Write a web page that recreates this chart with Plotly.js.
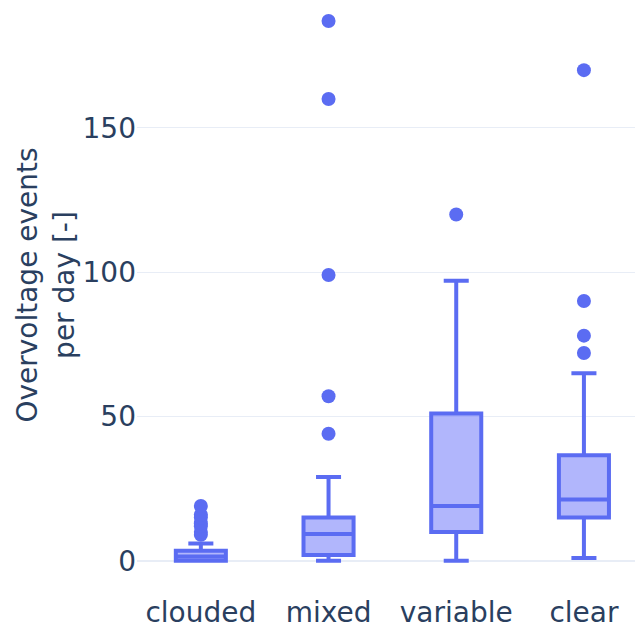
<!DOCTYPE html>
<html>
<head>
<meta charset="utf-8">
<script src="https://cdn.plot.ly/plotly-3.0.1.min.js"></script>
<style>html,body{margin:0;padding:0;background:#fff;}</style>
</head>
<body>
<div id="chart" style="width:635px;height:628px;"></div>
<script>
var categories = ['clouded', 'mixed', 'variable', 'clear'];
var lowerFence = [0, 0, 0, 1];
var q1Values = [0, 2, 10, 15];
var medianValues = [1.5, 9.3, 19, 21.2];
var q3Values = [3.5, 15, 51, 36.6];
var upperFence = [6, 29, 97, 65];
var outliers = [
  [9, 10, 12, 13, 15, 16, 19],
  [44, 57, 99, 160, 187],
  [120],
  [72, 78, 90, 170]
];
var yTickVals = [0, 50, 100, 150];

var color = '#5b6cf2';
var trace = {
  type: 'box',
  x: categories,
  q1: q1Values,
  median: medianValues,
  q3: q3Values,
  lowerfence: lowerFence,
  upperfence: upperFence,
  y: outliers,
  boxpoints: 'outliers',
  pointpos: 0,
  jitter: 0,
  line: {color: color, width: 4},
  fillcolor: 'rgba(99,110,250,0.5)',
  marker: {color: color, size: 14},
  whiskerwidth: 0.5,
  showlegend: false,
  hoverinfo: 'skip'
};

var layout = {
  width: 635,
  height: 628,
  margin: {l: 137, r: 0, t: 0, b: 58},
  paper_bgcolor: '#fff',
  plot_bgcolor: '#fff',
  font: {family: 'DejaVu Sans, Verdana, sans-serif', size: 28, color: '#2a3f5f'},
  boxgap: 0.44,
  showlegend: false,
  xaxis: {
    type: 'category',
    range: [-0.5, 3.4],
    showgrid: false,
    zeroline: false,
    showline: false,
    ticks: 'outside',
    ticklen: 17,
    tickcolor: 'rgba(0,0,0,0)'
  },
  yaxis: {
    range: [-3.2, 194.3],
    tickvals: yTickVals,
    ticktext: yTickVals.map(String),
    gridcolor: '#E8EDF6',
    gridwidth: 1,
    zeroline: true,
    zerolinecolor: '#E8EDF6',
    zerolinewidth: 2,
    showline: false,
    ticks: '',
    title: {text: 'Overvoltage events<br>per day [-]', font: {size: 28}}
  }
};

Plotly.newPlot('chart', [trace], layout, {displayModeBar: false, staticPlot: true});
</script>
</body>
</html>
